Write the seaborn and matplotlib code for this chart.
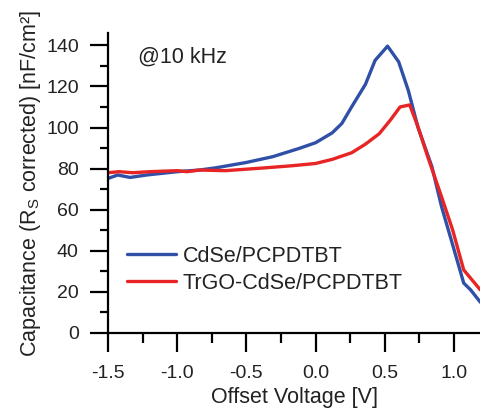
import pandas as pd
import matplotlib
matplotlib.use("Agg")
import matplotlib.pyplot as plt
import seaborn as sns
from matplotlib.ticker import MultipleLocator

# values
cdse_v = [-1.5, -1.43, -1.34, -1.22, -1.0, -0.84, -0.72, -0.5, -0.31, -0.12, 0.0, 0.12,
          0.19, 0.26, 0.36, 0.43, 0.52, 0.60, 0.67, 0.74, 0.84, 0.91, 0.98, 1.07, 1.12, 1.19]
cdse_c = [75.2, 76.9, 75.7, 76.9, 78.5, 79.3, 80.4, 83.0, 85.8, 89.8, 92.6, 97.4,
          102.0, 110.0, 121.0, 132.7, 139.6, 132.0, 118.0, 100.0, 81.0, 61.5, 45.3, 24.3, 21.0, 15.0]

trgo_v = [-1.5, -1.42, -1.32, -1.2, -1.0, -0.93, -0.84, -0.65, -0.36, -0.17, 0.0, 0.12,
          0.26, 0.36, 0.46, 0.54, 0.61, 0.68, 0.74, 0.81, 0.91, 0.99, 1.07, 1.19]
trgo_c = [78.0, 78.5, 78.0, 78.5, 79.0, 78.5, 79.3, 79.0, 80.4, 81.4, 82.5, 84.5,
          87.7, 91.9, 97.0, 103.6, 110.0, 111.0, 100.3, 85.8, 66.3, 50.2, 30.7, 21.0]

sns.set_style("ticks")
plt.rcParams['font.family'] = ['Liberation Sans', 'DejaVu Sans']
plt.rcParams['axes.unicode_minus'] = False
plt.rcParams['mathtext.fontset'] = 'custom'
plt.rcParams['mathtext.rm'] = 'Liberation Sans'

fig = plt.figure(figsize=(4.81, 4.15), dpi=100)
ax = fig.add_axes([0.2245, 0.1976, 0.7755, 0.7229])

sns.lineplot(x=cdse_v, y=cdse_c, color='#3050a8', lw=2.4, label='CdSe/PCPDTBT', ax=ax)
sns.lineplot(x=trgo_v, y=trgo_c, color='#e82424', lw=2.4, label='TrGO-CdSe/PCPDTBT', ax=ax)

ax.set_xlim(-1.5, 1.195)
ax.set_ylim(0, 146)
ax.xaxis.set_major_locator(MultipleLocator(0.5))
ax.xaxis.set_minor_locator(MultipleLocator(0.25))
ax.yaxis.set_major_locator(MultipleLocator(20))
ax.yaxis.set_minor_locator(MultipleLocator(10))
ax.xaxis.set_major_formatter(matplotlib.ticker.FormatStrFormatter('%.1f'))

for s in ['top', 'right']:
    ax.spines[s].set_visible(False)
for s in ['left', 'bottom']:
    ax.spines[s].set_linewidth(1.6)
    ax.spines[s].set_color('black')

ax.tick_params(axis='x', which='major', length=14, width=1.6, labelsize=14, pad=9, colors='black', labelcolor='#222222')
ax.tick_params(axis='x', which='minor', length=7, width=1.6, colors='black')
ax.tick_params(axis='y', which='major', length=13, width=1.6, labelsize=14, pad=8, colors='black', labelcolor='#222222')
ax.tick_params(axis='y', which='minor', length=6, width=1.6, colors='black')

ax.set_xlabel('Offset Voltage [V]', fontsize=15.5, color='#222222', labelpad=4)
ax.set_ylabel('Capacitance (R$_\\mathrm{S}$ corrected) [nF/cm²]', fontsize=15.5, color='#222222', labelpad=2)

ax.text(-1.28, 134, '@10 kHz', fontsize=15.5, color='#222222', va='center', ha='left')

ax.legend(loc='upper left', bbox_to_anchor=(0.05, 0.29), frameon=False, fontsize=15.5,
          handlelength=2.3, handletextpad=0.3, borderpad=0, borderaxespad=0, labelspacing=0.28,
          labelcolor='#222222')

fig.savefig('out.png', dpi=100)
